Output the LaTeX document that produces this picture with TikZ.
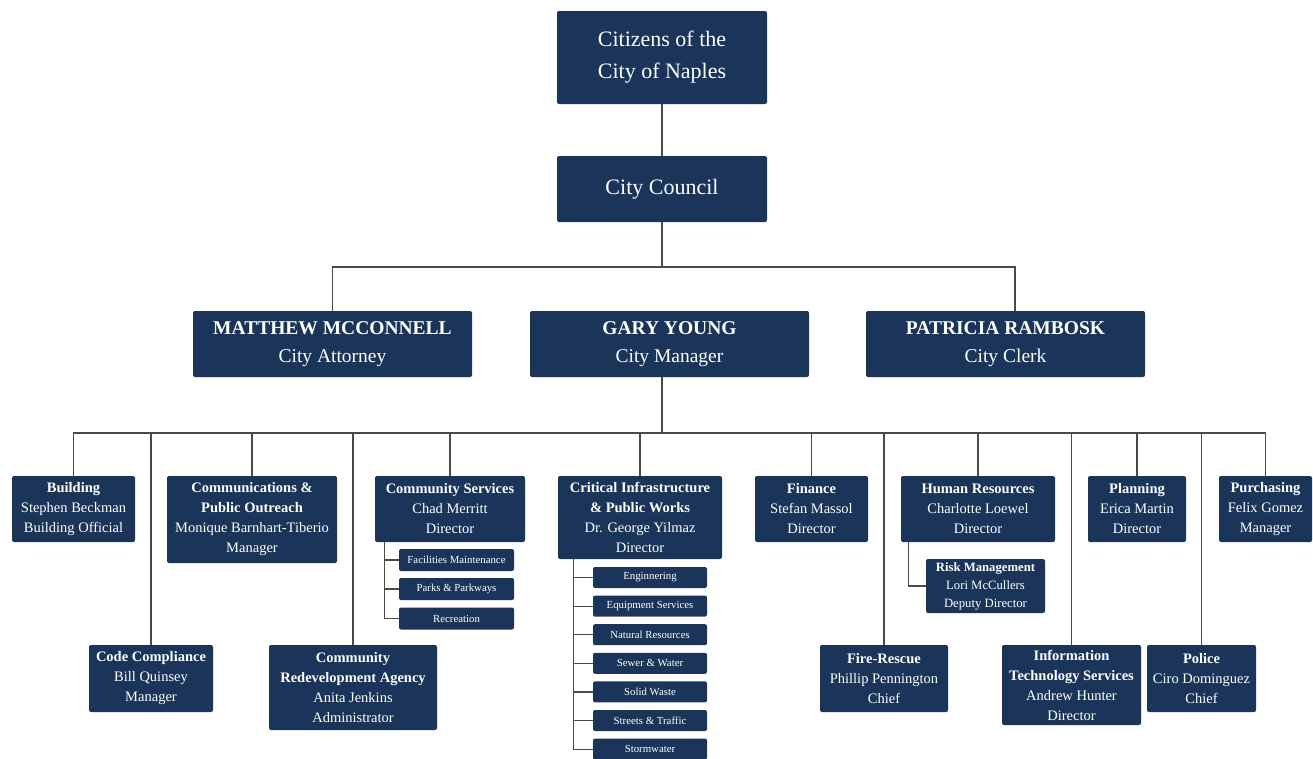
\documentclass[tikz,border=0pt]{standalone}
\usepackage{fontspec}
\setmainfont{Liberation Serif}
\definecolor{navy}{HTML}{1B355A}
\definecolor{wiregray}{HTML}{4A4A4A}
\begin{document}
\begin{tikzpicture}[x=1pt,y=-1pt,
  box/.style={fill=navy, rounded corners=2pt, text=white, align=center, inner sep=0pt},
  headbox/.style={box, font=\fontsize{22}{32}\selectfont, minimum width=210},
  lead/.style={box, font=\fontsize{19.5}{28}\selectfont, minimum width=279, minimum height=66},
  deptbox/.style={box, font=\fontsize{14.5}{20}\selectfont},
  subbox/.style={box, font=\fontsize{10.8}{13}\selectfont, minimum height=21},
  riskbox/.style={box, font=\fontsize{12.7}{18}\selectfont},
  conn/.style={draw=wiregray, line width=1.2pt}]
\useasboundingbox (0,0) rectangle (1313,758);
\clip (0,0) rectangle (1313,758);
\fill[white] (0,0) rectangle (1313,758);

% top levels
\node[headbox, minimum height=93] (citizens) at (662,57.5) {Citizens of the\\City of Naples};
\node[headbox, minimum height=66] (council) at (662,189) {City Council};
\node[lead] (matthew) at (332.5,344) {\textbf{MATTHEW MCCONNELL}\\City Attorney};
\node[lead] (gary) at (669.5,344) {\textbf{GARY YOUNG}\\City Manager};
\node[lead] (patricia) at (1005.5,344) {\textbf{PATRICIA RAMBOSK}\\City Clerk};

\coordinate (tbR) at (1015,267);
\coordinate (busY) at (0,433);

% departments
\node[deptbox, minimum width=123, minimum height=66] (building) at (73.5,509) {\textbf{Building}\\Stephen Beckman\\Building Official};
\node[deptbox, minimum width=124, minimum height=67] (codecomp) at (151,678.5) {\textbf{Code Compliance}\\Bill Quinsey\\Manager};
\node[deptbox, minimum width=170, minimum height=87] (comms) at (252,519.5) {\textbf{Communications \&}\\\textbf{Public Outreach}\\Monique Barnhart-Tiberio\\Manager};
\node[deptbox, minimum width=168, minimum height=85] (cra) at (353,687.5) {\textbf{Community}\\\textbf{Redevelopment Agency}\\Anita Jenkins\\Administrator};
\node[deptbox, minimum width=150, minimum height=66] (cs) at (450,509) {\textbf{Community Services}\\Chad Merritt\\Director};
\node[deptbox, minimum width=164, minimum height=83] (cipw) at (640,517.5) {\textbf{Critical Infrastructure}\\\textbf{\& Public Works}\\Dr. George Yilmaz\\Director};
\node[deptbox, minimum width=113, minimum height=66] (finance) at (811.5,509) {\textbf{Finance}\\Stefan Massol\\Director};
\node[deptbox, minimum width=128, minimum height=67] (fire) at (884,678.5) {\textbf{Fire-Rescue}\\Phillip Pennington\\Chief};
\node[deptbox, minimum width=154, minimum height=66] (hr) at (978,509) {\textbf{Human Resources}\\Charlotte Loewel\\Director};
\node[deptbox, minimum width=139, minimum height=80] (it) at (1071.5,685) {\textbf{Information}\\\textbf{Technology Services}\\Andrew Hunter\\Director};
\node[deptbox, minimum width=98, minimum height=66] (planning) at (1137,509) {\textbf{Planning}\\Erica Martin\\Director};
\node[deptbox, minimum width=109, minimum height=67] (police) at (1201.5,678.5) {\textbf{Police}\\Ciro Dominguez\\Chief};
\node[deptbox, minimum width=93, minimum height=66] (purchasing) at (1265.5,509) {\textbf{Purchasing}\\Felix Gomez\\Manager};

% sub units
\node[subbox, minimum width=115, minimum height=22] (fm) at (456.5,560) {Facilities Maintenance};
\node[subbox, minimum width=115, minimum height=22] (pp) at (456.5,589) {Parks \& Parkways};
\node[subbox, minimum width=115, minimum height=22] (rec) at (456.5,618.5) {Recreation};

\node[subbox, minimum width=114] (eng) at (650,577.5) {Enginnering};
\node[subbox, minimum width=114] (equip) at (650,606.1) {Equipment Services};
\node[subbox, minimum width=114] (nat) at (650,634.7) {Natural Resources};
\node[subbox, minimum width=114] (sewer) at (650,663.3) {Sewer \& Water};
\node[subbox, minimum width=114] (solid) at (650,691.9) {Solid Waste};
\node[subbox, minimum width=114] (streets) at (650,720.5) {Streets \& Traffic};
\node[subbox, minimum width=114] (storm) at (650,749.1) {Stormwater};

\node[riskbox, minimum width=119, minimum height=54] (risk) at (985.5,586) {\textbf{Risk Management}\\Lori McCullers\\Deputy Director};

% connectors
\draw[conn] (citizens.south) -- (council.south |- council.north);
\draw[conn] (council.south) -- (council.south |- tbR);
\draw[conn] (matthew.north) -- (matthew.north |- tbR) -- (tbR) -- (tbR |- patricia.north);
\draw[conn] (council.south |- gary.south) -- (council.south |- busY);
\draw[conn] (building.north) -- (building.north |- busY) -- (purchasing.north |- busY) -- (purchasing.north);
\foreach \n in {codecomp,comms,cra,cs,cipw,finance,fire,hr,it,planning,police}
  \draw[conn] (\n.north) -- (\n.north |- busY);

\coordinate (csv) at ([xshift=10pt]cs.south west);
\draw[conn] (csv) |- (rec.west);
\draw[conn] (csv |- fm.west) -- (fm.west);
\draw[conn] (csv |- pp.west) -- (pp.west);

\coordinate (cpv) at ([xshift=16pt]cipw.south west);
\draw[conn] (cpv) |- (storm.west);
\foreach \n in {eng,equip,nat,sewer,solid,streets}
  \draw[conn] (cpv |- \n.west) -- (\n.west);

\draw[conn] ([xshift=8pt]hr.south west) |- (risk.west);
\end{tikzpicture}
\end{document}
